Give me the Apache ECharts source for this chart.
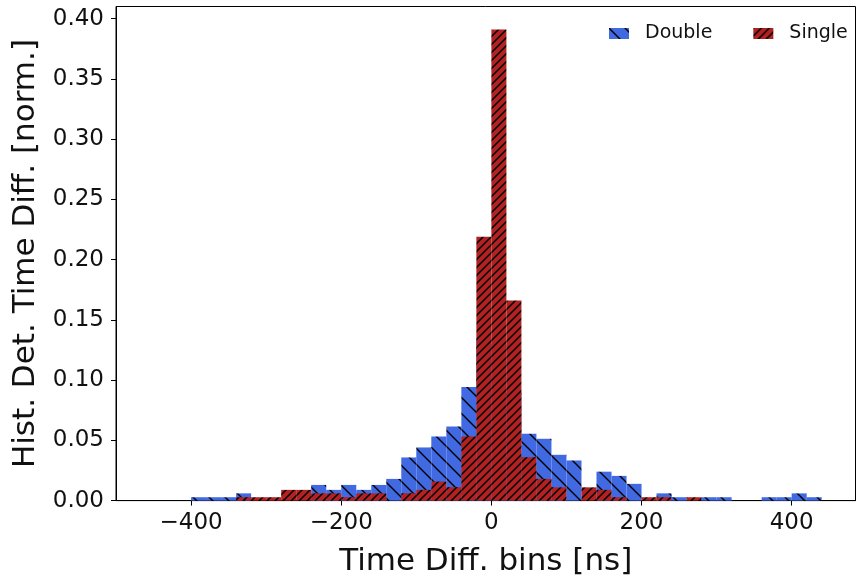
<!DOCTYPE html>
<html>
<head>
<meta charset="utf-8">
<script src="https://cdn.jsdelivr.net/npm/echarts@6/dist/echarts.min.js"></script>
<style>
html,body{margin:0;padding:0;background:#fff;}
#chart{width:857px;height:575px;}
</style>
</head>
<body>
<div id="chart"></div>
<script>
// ---- data ----
const binWidth = 20;
const binLeft = [-400,-380,-360,-340,-320,-300,-280,-260,-240,-220,-200,-180,-160,-140,-120,-100,-80,-60,-40,-20,
  0,20,40,60,80,100,120,140,160,180,200,220,240,260,280,300,320,340,360,380,400,420];
const doubleVals = [0.0028,0.0028,0.0028,0.006,0,0,0,0,0.013,0.0089,0.013,0.0089,0.013,0.018,0.0358,0.0441,0.0532,0.0615,0.0943,0.135,
  0.13,0.09,0.0555,0.0513,0.038,0.0333,0,0.024,0.0205,0.0139,0,0.006,0.0028,0,0.0028,0.0028,0,0,0.0028,0.0028,0.006,0.0028];
const singleVals = [0,0,0,0.0028,0.0028,0.0028,0.0089,0.0089,0.006,0.006,0.0028,0.006,0.006,0,0.0061,0.0089,0.0158,0.0111,0.0532,0.219,
  0.391,0.166,0.036,0.018,0.011,0,0.011,0.0089,0.0028,0,0.0028,0.0028,0,0.0028,0,0,0,0,0,0,0,0];
const xTicks = [-400,-200,0,200,400];
const yTicks = [0,0.05,0.10,0.15,0.20,0.25,0.30,0.35,0.40];
const seriesNames = ['Double','Single'];

// ---- layout ----
const xMin = -500, xMax = 485, yMax = 0.41;
const gridLeft = 116, gridRight = 1.5, gridTop = 6.5, gridBottom = 74.4;
const W = 857, H = 575;
const plotW = W - gridLeft - gridRight;
const barW = binWidth * plotW / (xMax - xMin);

function hatch(size, color, dir, lw){
  const c = document.createElement('canvas');
  c.width = size; c.height = size;
  const g = c.getContext('2d');
  g.fillStyle = color; g.fillRect(0,0,size,size);
  g.strokeStyle = '#000'; g.lineWidth = lw;
  g.beginPath();
  if (dir === '/') {
    g.moveTo(-2, size+2); g.lineTo(size+2, -2);
    g.moveTo(-2, 2); g.lineTo(2, -2);
    g.moveTo(size-2, size+2); g.lineTo(size+2, size-2);
  } else {
    g.moveTo(-2, -2); g.lineTo(size+2, size+2);
    g.moveTo(size-2, -2); g.lineTo(size+2, 2);
    g.moveTo(-2, size-2); g.lineTo(2, size+2);
  }
  g.stroke();
  return {image: c, repeat: 'repeat'};
}
const bluePat = hatch(16, '#4169E1', '\\', 1.4);
const redPat = hatch(8, '#B22222', '/', 1.5);

const font = 'DejaVu Sans';
const txt = '#111';
const chart = echarts.init(document.getElementById('chart'), null, {renderer:'canvas'});
chart.setOption({
  animation: false,
  backgroundColor: '#fff',
  grid: {left: gridLeft, right: gridRight, top: gridTop, bottom: gridBottom, show: true,
    containLabel: false, outerBoundsMode: 'none',
    borderColor: '#000', borderWidth: 1, backgroundColor: 'transparent'},
  legend: {
    left: 609, top: 24, padding: 0, itemWidth: 20, itemHeight: 11, itemGap: 41,
    icon: 'rect',
    data: seriesNames,
    textStyle: {fontFamily: font, fontSize: 19, color: txt, padding: [0,0,0,11]}
  },
  xAxis: {
    type: 'value', min: xMin, max: xMax,
    name: 'Time Diff. bins [ns]', nameLocation: 'middle', nameGap: 46,
    nameTextStyle: {fontFamily: font, fontSize: 31, color: txt},
    axisLine: {show: true, onZero: false, lineStyle: {color: '#000', width: 1}},
    axisTick: {show: true, length: 5, lineStyle: {color: '#000'}, customValues: xTicks},
    axisLabel: {fontFamily: font, fontSize: 23, color: txt, margin: 11, customValues: xTicks,
      formatter: v => (v < 0 ? '\u2212' + Math.abs(v) : String(v))},
    splitLine: {show: false}
  },
  yAxis: {
    type: 'value', min: 0, max: yMax,
    name: 'Hist. Det. Time Diff. [norm.]', nameLocation: 'middle', nameGap: 72,
    nameTextStyle: {fontFamily: font, fontSize: 31, color: txt},
    axisLine: {show: true, onZero: false, lineStyle: {color: '#000', width: 1}},
    axisTick: {show: true, length: 5, lineStyle: {color: '#000'}, customValues: yTicks},
    axisLabel: {fontFamily: font, fontSize: 23, color: txt, margin: 12, customValues: yTicks,
      formatter: v => v.toFixed(2)},
    splitLine: {show: false}
  },
  series: [
    {name: seriesNames[0], type: 'bar', barWidth: barW, barGap: '-100%',
      itemStyle: {color: bluePat},
      data: binLeft.map((b,i) => [b + binWidth/2, doubleVals[i]])},
    {name: seriesNames[1], type: 'bar', barWidth: barW, barGap: '-100%',
      itemStyle: {color: redPat},
      data: binLeft.map((b,i) => [b + binWidth/2, singleVals[i]])}
  ]
});
</script>
</body>
</html>
